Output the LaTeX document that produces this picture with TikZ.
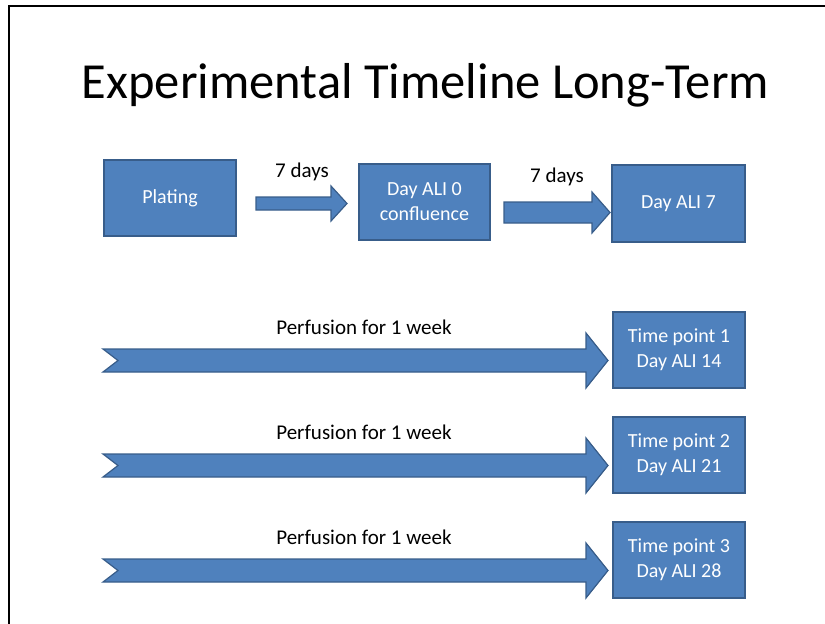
\documentclass[tikz,border=0pt]{standalone}
\usepackage{fontspec}
\setmainfont{Carlito}
\definecolor{boxblue}{HTML}{4F81BD}
\definecolor{boxedge}{HTML}{385D8A}
\begin{document}
\begin{tikzpicture}[x=1pt,y=-1pt,
  bluebox/.style={draw=boxedge,fill=boxblue,line width=1.2pt,text=white,align=center,
    font=\fontsize{20}{25}\selectfont,inner sep=0pt},
  blockarrow/.style={draw=boxedge,fill=boxblue,line width=1.2pt,line join=miter},
  lbl/.style={font=\fontsize{21}{24}\selectfont,text=black,inner sep=0pt}]
\useasboundingbox (0,0) rectangle (825,624);
% frame
\draw[line width=2pt] (9,624) -- (9,6) -- (825,6);
% title
\node[font=\fontsize{50.5}{58}\selectfont,inner sep=0pt] (title) at (425.5,85) {Experimental Timeline Long-Term};
% top row boxes
\node[bluebox,minimum width=132pt,minimum height=76pt] (plating) at (170,198) {Plating};
\node[bluebox,minimum width=131pt,minimum height=76pt] (day0) at (424.5,202) {Day ALI 0\\confluence};
\node[bluebox,minimum width=133pt,minimum height=77pt] (day7) at (678.5,203.5) {Day ALI 7};
% small arrows
\draw[blockarrow] (256,197) -- (331,197) -- (331,186) -- (347,203.5) -- (331,221) -- (331,210) -- (256,210) -- cycle;
\node[lbl] (d1) at (302,172) {7 days};
\draw[blockarrow] (504,202) -- (592,202) -- (592,192) -- (610,212.5) -- (592,233) -- (592,223) -- (504,223) -- cycle;
\node[lbl] (d2) at (557,177) {7 days};
% timeline rows
\foreach \i/\yc/\yb/\num/\day in {1/360.5/350/1/14, 2/465.5/455/2/21, 3/570.5/560/3/28}{
  \draw[blockarrow] (103,\yc-11.5) -- (586,\yc-11.5) -- (586,\yc-27.5) -- (608,\yc) -- (586,\yc+27.5) -- (586,\yc+11.5) -- (103,\yc+11.5) -- (118,\yc) -- cycle;
  \node[lbl] (perf\i) at (364,\yc-33) {Perfusion for 1 week};
  \node[bluebox,minimum width=132pt,minimum height=76pt] (tp\i) at (679,\yb) {Time point \num\\Day ALI \day};
}
\end{tikzpicture}
\end{document}
